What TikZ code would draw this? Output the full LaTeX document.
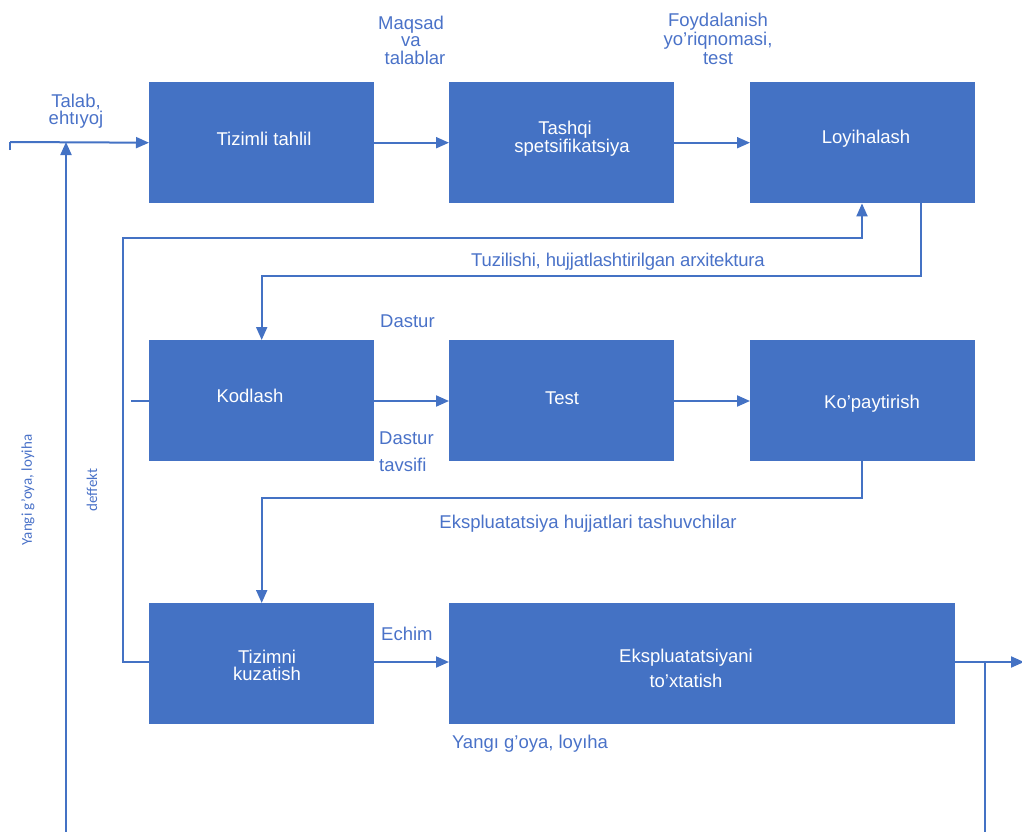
\documentclass[tikz,border=0pt]{standalone}
\usepackage{fontspec}
\setmainfont{Liberation Sans}
\newfontfamily\calib{Carlito}
\usetikzlibrary{arrows.meta}
\definecolor{boxblue}{HTML}{4472C4}
\definecolor{txtblue}{HTML}{4A72C8}
\begin{document}
\begin{tikzpicture}[x=1pt,y=-1pt,
  box/.style={fill=boxblue,draw=none,minimum width=225pt,minimum height=121pt,inner sep=0pt,anchor=north west},
  btext/.style={text=white,font=\fontsize{18.5}{18}\selectfont,align=center,inner sep=0pt},
  lab/.style={text=txtblue,font=\fontsize{18.5}{18}\selectfont,align=center,inner sep=0pt},
  vlab/.style={text=txtblue,font=\calib\fontsize{15}{16}\selectfont,rotate=90,inner sep=0pt},
  conn/.style={draw=boxblue,line width=2pt},
  arr/.style={conn,-{Triangle[length=13pt,width=11pt]}}]
\useasboundingbox (0,0) rectangle (1022,832);

% boxes
\node[box] (b1) at (149,82) {};
\node[box] (b2) at (449,82) {};
\node[box] (b3) at (750,82) {};
\node[box] (b4) at (149,340) {};
\node[box] (b5) at (449,340) {};
\node[box] (b6) at (750,340) {};
\node[box] (b7) at (149,603) {};
\node[box,minimum width=506pt] (b8) at (449,603) {};

% box texts
\node[btext] (t1) at (264,139) {Tizimli tahlil};
\node[btext,font=\fontsize{18.5}{18}\selectfont] (t2) at (565,139) {Tashqi\\ \hspace*{14pt}spetsifikatsiya};
\node[btext] (t3) at (866,139) {Loyihalash};
\node[btext] (t4) at (250,396) {Kodlash};
\node[btext] (t5) at (562,398) {Test};
\node[btext] (t6) at (872,404) {Ko’paytirish};
\node[btext,font=\fontsize{18.5}{17}\selectfont] (t7) at (267,665) {Tizimni\\kuzatish};
\node[btext,font=\fontsize{18.5}{25}\selectfont] (t8) at (686,668) {Ekspluatatsiyani\\to’xtatish};

% labels
\node[lab,font=\fontsize{18.5}{17}\selectfont] (l1) at (76,111) {Talab,\\ehtıyoj};
\node[lab,font=\fontsize{18.5}{17.5}\selectfont] (l2) at (411,40) {Maqsad\\[0pt]va\\[0pt]\hspace*{8pt}talablar};
\node[lab,font=\fontsize{18.5}{19}\selectfont] (l3) at (718,39) {Foydalanish\\yo’riqnomasi,\\test};
\node[lab,font=\fontsize{18.5}{18}\selectfont\addfontfeatures{LetterSpace=-1}] (l4) at (618,262) {Tuzilishi, hujjatlashtirilgan arxitektura};
\node[lab,anchor=west] (l5) at (380,321) {Dastur};
\node[lab,anchor=west,align=left,font=\fontsize{18.5}{27}\selectfont] (l6) at (379,452) {Dastur\\tavsifi};
\node[lab,font=\fontsize{18.5}{18}\selectfont] (l7) at (588,524) {Ekspluatatsiya hujjatlari tashuvchilar};
\node[lab,anchor=west] (l8) at (381,634) {Echim};
\node[lab] (l9) at (530,744) {Yangı g’oya, loyıha};
\node[vlab] (l10) at (28,490) {Yangi g’oya, loyiha};
\node[vlab] (l11) at (92,490) {deffekt};

% coordinates
\coordinate (in) at (10,142);
\coordinate (tick) at (10,150);
\coordinate (nb) at (66,832);
\coordinate (fbl) at (123,662);
\coordinate (fb) at (862,238);
\coordinate (d1) at (921,276);
\coordinate (d2) at (862,498);
\coordinate (st) at (131,401);
\coordinate (out) at (1024,662);
\coordinate (ob) at (985,832);

% connectors
\draw[conn] (tick) -- (in);
\draw[arr] (in) -- (b1.west);
\draw[arr] (nb) -- (nb |- in);
\draw[arr] (b1.east) -- (b2.west);
\draw[arr] (b2.east) -- (b3.west);
\draw[arr] (b7.west |- fbl) -- (fbl) |- (fb) -- (fb |- b3.south);
\draw[arr] (d1 |- b3.south) -- (d1) -| (b4.north);
\draw[conn] (st) -- (st -| b4.west);
\draw[arr] (b4.east |- st) -- (b5.west |- st);
\draw[arr] (b5.east |- st) -- (b6.west |- st);
\draw[arr] (d2 |- b6.south) -- (d2) -| (b7.north);
\draw[arr] (b7.east |- fbl) -- (b8.west |- fbl);
\draw[arr] (b8.east |- out) -- (out);
\draw[conn] (ob) -- (ob |- out);
\end{tikzpicture}
\end{document}
